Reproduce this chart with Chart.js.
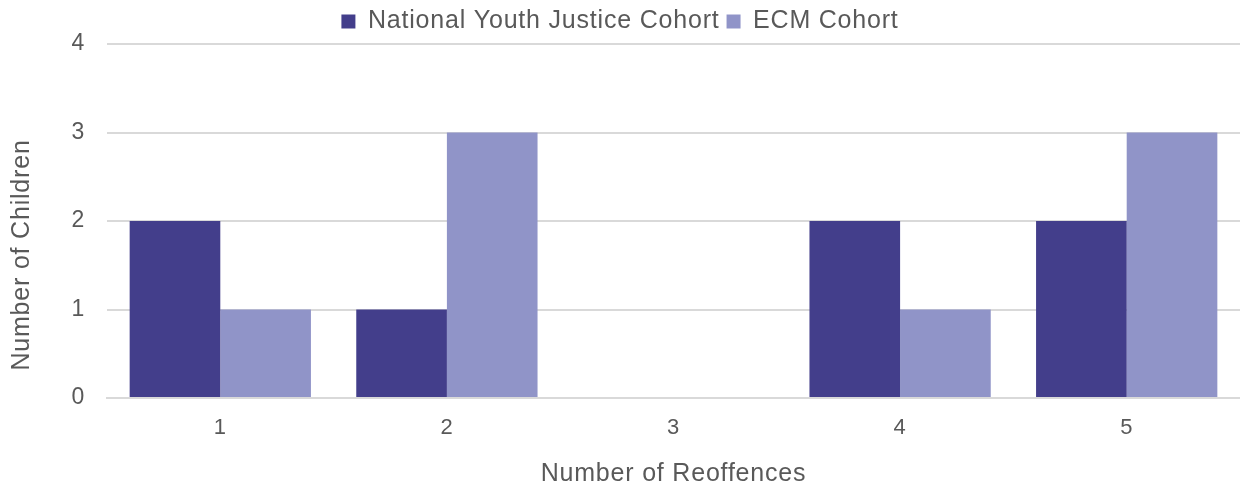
<!DOCTYPE html>
<html>
<head>
<meta charset="utf-8">
<script src="https://cdn.jsdelivr.net/npm/chart.js@4"></script>
<style>
  html, body { margin: 0; padding: 0; background: #fff; }
  #wrap { width: 1240px; height: 486px; }
</style>
</head>
<body>
<div id="wrap"><canvas id="chart" width="1240" height="486"></canvas></div>
<script>
// Data
const reoffences = ["1", "2", "3", "4", "5"];
const nationalCohort = [2, 1, 0, 2, 2];
const ecmCohort = [1, 3, 0, 1, 3];
const yTicks = [0, 1, 2, 3, 4];

const textColor = "#595959";
const gridColor = "#d9d9d9";
const fontFamily = "Liberation Sans, Arial, sans-serif";

// The reference text runs a bit wider than Arial, so add a touch of letter spacing
const letterSpacingPlugin = {
  id: "letterSpacing",
  beforeLayout(chart) { chart.ctx.letterSpacing = "0.8px"; },
  beforeDraw(chart) { chart.ctx.letterSpacing = "0.8px"; },
};

// The y title sits lower than the plot centre in the reference (centred on the whole figure)
const yTitleShiftPlugin = {
  id: "yTitleShift",
  afterLayout(chart) {
    const y = chart.scales.y;
    if (y._shifted) return;
    const orig = y.drawTitle;
    y.drawTitle = function () {
      const ctx = this.ctx;
      ctx.save();
      ctx.translate(0, 34);
      orig.call(this);
      ctx.restore();
    };
    y._shifted = true;
  },
};

function createBarChart() {
  const ctx = document.getElementById("chart").getContext("2d");

  return new Chart(ctx, {
    type: "bar",
    data: {
      labels: reoffences,
      datasets: [
        {
          label: "National Youth Justice Cohort",
          data: nationalCohort,
          backgroundColor: "#433e8b",
          borderWidth: 0,
        },
        {
          label: "ECM Cohort",
          data: ecmCohort,
          backgroundColor: "#9094c8",
          borderWidth: 0,
        },
      ],
    },
    plugins: [letterSpacingPlugin, yTitleShiftPlugin],
    options: {
      responsive: false,
      animation: false,
      layout: { padding: { left: 0, right: 0, top: 2, bottom: 0 } },
      datasets: {
        bar: { categoryPercentage: 0.8, barPercentage: 1.0 },
      },
      plugins: {
        tooltip: { enabled: false },
        legend: {
          position: "top",
          labels: {
            color: textColor,
            font: { family: fontFamily, size: 25 },
            boxWidth: 14,
            boxHeight: 14,
            padding: 7,
          },
        },
      },
      scales: {
        x: {
          grid: { display: false },
          border: { display: true, color: gridColor, width: 2 },
          ticks: {
            color: textColor,
            font: { family: fontFamily, size: 22 },
            padding: 9,
          },
          title: {
            display: true,
            text: "Number of Reoffences",
            color: textColor,
            font: { family: fontFamily, size: 25 },
            padding: { top: 12, bottom: -3 },
          },
          afterFit: (scale) => { scale.height = 88; },
        },
        y: {
          min: 0,
          max: 4,
          afterBuildTicks: (scale) => { scale.ticks = yTicks.map((v) => ({ value: v })); },
          grid: { color: gridColor, lineWidth: 2, drawTicks: false },
          border: { display: false },
          ticks: {
            color: textColor,
            font: { family: fontFamily, size: 23 },
            padding: 22,
          },
          title: {
            display: true,
            text: "Number of Children",
            color: textColor,
            font: { family: fontFamily, size: 25 },
            padding: { top: 7, bottom: 6 },
          },
          afterFit: (scale) => { scale.width = 107; },
        },
      },
    },
  });
}

const barChart = createBarChart();
</script>
</body>
</html>
